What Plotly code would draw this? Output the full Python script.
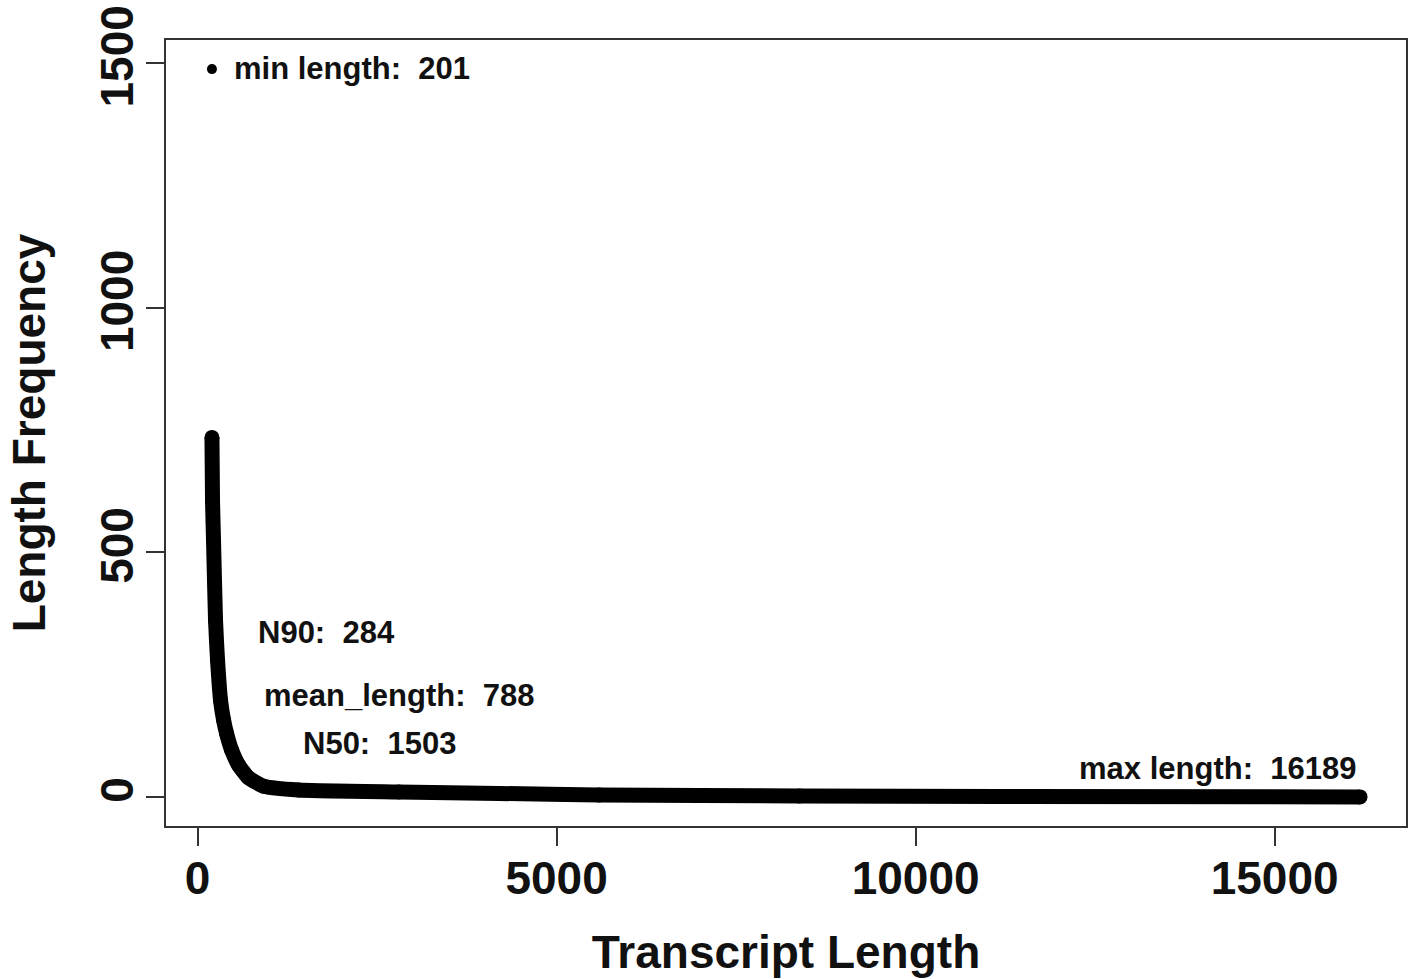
import plotly.graph_objects as go

# ---- data ----
transcript_length = [201, 209, 223, 251, 279, 321, 363, 404, 474, 572, 711, 921,
                     1409, 2803, 4198, 5593, 8382, 11172, 16189]
length_frequency = [735, 604, 523, 360, 279, 197, 157, 130, 96, 65, 39, 22,
                    14, 10, 7, 4, 2, 1, 0]

min_point_x = [201]
min_point_y = [1488]

x_ticks = [0, 5000, 10000, 15000]
y_ticks = [0, 500, 1000, 1500]
x_range = [-439, 16829]
y_range = [-59.5, 1547.5]

labels = ["min length:\u00a0\u00a0201", "N90:\u00a0\u00a0284", "mean_length:\u00a0\u00a0788",
          "N50:\u00a0\u00a01503", "max length:\u00a0\u00a016189"]
label_x = [474, 809, 893, 1437, 16165]
label_y = [1490, 336, 208, 110, 59]
label_anchor = ["left", "left", "left", "left", "right"]

FONT = "Liberation Sans, Arial, Helvetica, sans-serif"

fig = go.Figure()
fig.add_trace(go.Scatter(
    x=transcript_length, y=length_frequency, mode="lines+markers",
    line=dict(color="black", width=15, shape="spline", smoothing=0.5),
    marker=dict(color="black", size=15),
    showlegend=False, hoverinfo="skip"))
fig.add_trace(go.Scatter(
    x=min_point_x, y=min_point_y, mode="markers",
    marker=dict(color="black", size=10), showlegend=False, hoverinfo="skip"))

for t, xx, yy, an in zip(labels, label_x, label_y, label_anchor):
    fig.add_annotation(x=xx, y=yy, xref="x", yref="y", text=t, showarrow=False,
                       xanchor=an, yanchor="middle",
                       font=dict(family=FONT, size=31, color="#111111", weight="bold"))

fig.update_xaxes(range=x_range, tickvals=x_ticks, ticktext=[str(v) for v in x_ticks],
                 showgrid=False, zeroline=False, showline=True, mirror=True,
                 linecolor="#333333", linewidth=2, ticks="outside", ticklen=18, tickwidth=2,
                 tickcolor="#333333", ticklabelstandoff=-7,
                 tickfont=dict(family=FONT, size=46, color="#111111", weight="bold"),
                 title=dict(text="Transcript Length", standoff=33,
                            font=dict(family=FONT, size=46, color="#111111", weight="bold")))
fig.update_yaxes(range=y_range, tickvals=y_ticks, ticktext=[str(v) for v in y_ticks],
                 showgrid=False, zeroline=False, showline=True, mirror=True,
                 linecolor="#333333", linewidth=2, ticks="outside", ticklen=18, tickwidth=2,
                 tickcolor="#333333", tickangle=-90, ticklabelstandoff=-5,
                 tickfont=dict(family=FONT, size=46, color="#111111", weight="bold"),
                 title=dict(text="Length Frequency", standoff=30,
                            font=dict(family=FONT, size=46, color="#111111", weight="bold")))

fig.update_layout(width=1413, height=979, autosize=False,
                  margin=dict(l=166, r=5, t=37, b=153),
                  plot_bgcolor="white", paper_bgcolor="white")

fig.write_html("out.html")
